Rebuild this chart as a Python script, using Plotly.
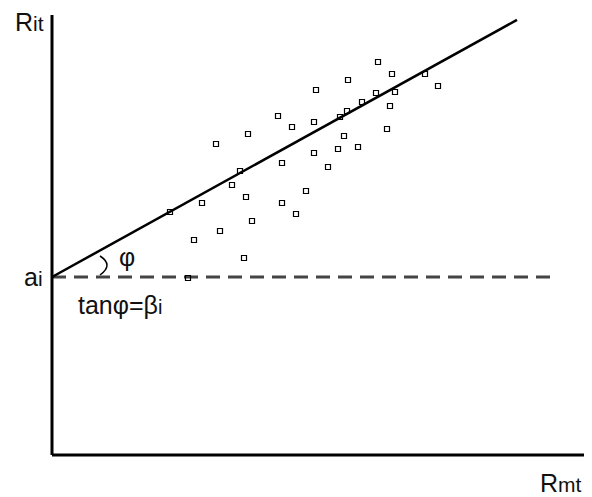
import plotly.graph_objects as go

# Scatter observations (Rmt, Rit), origin at the axes corner
r_mt = [326, 340, 296, 264, 386, 324, 343, 310, 295, 338, 288, 226, 240, 262,
        196, 164, 292, 335, 306, 286, 262, 230, 276, 188, 180, 150, 118, 194,
        230, 254, 244, 200, 168, 142, 192, 373, 136]
r_it = [393, 381, 375, 365, 369, 362, 363, 353, 344, 349, 338, 339, 328, 333,
        321, 311, 319, 326, 308, 306, 302, 292, 288, 284, 270, 252, 243, 258,
        252, 264, 241, 234, 224, 215, 197, 381, 177]

# Characteristic line: intercept a_i and slope beta_i
alpha_i = 178
beta_i = 0.553
line_x = [0, 465]
line_y = [alpha_i + beta_i * v for v in line_x]
dash_x = [0, 502]

fig = go.Figure()

# axes
fig.add_shape(type="line", x0=0, y0=0, x1=0, y1=440, line=dict(color="black", width=3))
fig.add_shape(type="line", x0=0, y0=0, x1=536, y1=0, line=dict(color="black", width=3))

# dashed intercept line
fig.add_trace(go.Scatter(x=dash_x, y=[alpha_i, alpha_i], mode="lines",
                         line=dict(color="#444444", width=3, dash="14px,8px"),
                         hoverinfo="skip", showlegend=False))
# regression line
fig.add_trace(go.Scatter(x=line_x, y=line_y, mode="lines",
                         line=dict(color="black", width=2.5),
                         hoverinfo="skip", showlegend=False))
# points
fig.add_trace(go.Scatter(x=r_mt, y=r_it, mode="markers",
                         marker=dict(symbol="square-open", size=5, color="black",
                                     line=dict(width=1.2, color="black")),
                         showlegend=False))

# angle arc
fig.add_shape(type="path", path="M 48,199 Q 62,190 48,180",
              line=dict(color="black", width=1.5))

font = dict(family="Liberation Sans, Arial, sans-serif", size=25, color="#111111")
anns = [
    dict(x=-39, y=433, text="R<span style='font-size:21px'>it</span>", xanchor="left"),
    dict(x=-30, y=178, text="a<span style='font-size:21px'>i</span>", xanchor="left"),
    dict(x=65, y=198, text="φ", xanchor="left"),
    dict(x=24, y=150, text="tanφ=β<span style='font-size:20px'>i</span>", xanchor="left"),
    dict(x=486, y=-28, text="R<span style='font-size:21px'>mt</span>", xanchor="left"),
]
for a in anns:
    fig.add_annotation(x=a["x"], y=a["y"], text=a["text"], xanchor=a["xanchor"],
                       yanchor="middle", showarrow=False, font=font)

fig.update_layout(
    width=592, height=497,
    margin=dict(l=0, r=0, t=0, b=0),
    plot_bgcolor="white", paper_bgcolor="white",
    xaxis=dict(range=[-44, 548], visible=False, fixedrange=True),
    yaxis=dict(range=[-50, 447], visible=False, fixedrange=True),
)

fig.write_html("out.html")
